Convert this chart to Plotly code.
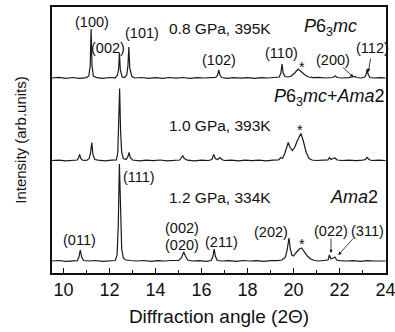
import plotly.graph_objects as go

# ---------------- data (2-theta in degrees, intensity in arb. units above each baseline) -------------
top_x = [9.5, 9.8, 10.1, 10.4, 10.7, 11.0, 11.1, 11.16, 11.2, 11.24, 11.3, 11.45, 11.7, 12.0, 12.25, 12.35,
         12.4, 12.43, 12.47, 12.55, 12.65, 12.75, 12.8, 12.84, 12.88, 12.97, 13.1, 13.4, 13.7, 14.0, 14.3,
         14.6, 14.9, 15.2, 15.5, 15.8, 16.1, 16.4, 16.62, 16.7, 16.75, 16.8, 16.88, 17.1, 17.4, 17.7, 18.0,
         18.3, 18.6, 18.9, 19.2, 19.38, 19.45, 19.5, 19.55, 19.62, 19.75, 19.9, 20.05, 20.2, 20.35, 20.5,
         20.65, 20.85, 21.1, 21.4, 21.7, 21.82, 21.9, 22.1, 22.4, 22.55, 22.65, 22.75, 22.95, 23.1, 23.16,
         23.2, 23.24, 23.32, 23.5, 23.8, 24.0]
top_y = [0, 0.6, -0.4, 0.5, -0.3, 0.4, 2, 12, 49, 12, 2, 0.3, -0.4, 0.5, 0.2, 3,
         10, 25, 8, 1, 0.5, 3, 12, 31, 10, 1.5, 0, 0.5, -0.4, 0.4, -0.3,
         0.5, -0.2, 0.5, -0.3, 0.4, 0, 0.5, 0.6, 3, 8, 3, 0.5, -0.3, 0.4, -0.2, 0.4,
         -0.3, 0.4, 0, 0.5, 1, 5, 14, 5, 1.5, 1, 2, 5, 9, 6, 3,
         1, 0.3, 0.6, 0, 0.5, 2, 0.5, 0, 0.3, 1, 1.5, 0.5, 0, 1, 4,
         9, 4, 0.5, 0, 0.4, 0]

mid_x = [9.5, 9.8, 10.1, 10.4, 10.6, 10.66, 10.7, 10.75, 10.83, 11.0, 11.12, 11.18, 11.23, 11.28, 11.36,
         11.5, 11.8, 12.1, 12.3, 12.36, 12.4, 12.44, 12.48, 12.53, 12.6, 12.72, 12.8, 12.85, 12.9, 13.0,
         13.3, 13.6, 13.9, 14.2, 14.5, 14.8, 15.05, 15.13, 15.18, 15.25, 15.38, 15.7, 16.0, 16.3, 16.45,
         16.53, 16.6, 16.7, 16.8, 16.88, 17.0, 17.3, 17.6, 17.9, 18.2, 18.5, 18.8, 19.1, 19.35, 19.45,
         19.52, 19.62, 19.7, 19.77, 19.85, 19.95, 20.05, 20.15, 20.32, 20.42, 20.55, 20.68, 20.8, 21.0,
         21.3, 21.5, 21.56, 21.63, 21.72, 21.8, 21.9, 22.1, 22.4, 22.7, 23.0, 23.12, 23.2, 23.28, 23.4,
         23.7, 24.0]
mid_y = [0, 0.4, -0.3, 0.5, 0.5, 3, 6, 2, 0.3, 0, 2, 8, 18, 6, 1,
         0.3, -0.3, 0.4, 0.5, 8, 35, 72, 30, 8, 2, 1, 4, 8, 3, 0.5,
         -0.3, 0.4, -0.2, 0.5, -0.3, 0.4, 0.5, 3, 5, 2, 0.3, -0.3, 0.4, 0, 1,
         6, 2, 1, 3, 1, 0, 0.4, -0.3, 0.4, -0.2, 0.4, -0.3, 0.4, 0.5, 3,
         2, 7, 13, 18, 13, 10, 13, 19, 27, 20, 8, 2, 0.5, 0,
         0.4, 0.5, 3, 1, 2, 2.5, 0.5, 0, 0.4, -0.2, 0.4, 1, 3, 1, 0,
         0.4, 0]

bot_x = [9.5, 9.8, 10.1, 10.4, 10.6, 10.67, 10.73, 10.79, 10.87, 11.1, 11.4, 11.7, 12.0, 12.25, 12.33,
         12.38, 12.43, 12.48, 12.53, 12.6, 12.7, 12.9, 13.2, 13.5, 13.8, 14.1, 14.4, 14.7, 15.0, 15.12,
         15.23, 15.3, 15.4, 15.6, 15.9, 16.2, 16.42, 16.5, 16.55, 16.6, 16.68, 16.9, 17.2, 17.5, 17.8,
         18.1, 18.4, 18.7, 19.0, 19.3, 19.5, 19.65, 19.73, 19.8, 19.86, 19.93, 20.0, 20.1, 20.25, 20.35,
         20.45, 20.6, 20.75, 20.9, 21.1, 21.35, 21.5, 21.56, 21.63, 21.72, 21.8, 21.88, 22.0, 22.3, 22.6,
         22.9, 23.2, 23.5, 23.8, 24.0]
bot_y = [0, 0.5, -0.3, 0.5, 0.3, 4, 11, 4, 0.5, 0, 0.5, -0.3, 0.4, 0.5, 6,
         35, 97, 45, 12, 3, 1, 0.5, 0, 0.5, -0.3, 0.4, 0, 0.5, 0.5, 3,
         9, 5, 1, 0, 0.4, -0.3, 0.5, 5, 12, 5, 0.5, 0, 0.4, -0.3, 0.5,
         0, 0.4, -0.3, 0.4, 0.3, 1, 4, 12, 23, 12, 6, 5, 8, 12, 13,
         10, 5, 2, 0.5, 0, 0.5, 1, 6, 2, 3, 4, 1, 0.3, 0, 0.4,
         -0.3, 0.4, 0, 0.4, 0]

offsets = {"top": 195, "mid": 112.5, "bot": 12}

x_ticks = [10, 12, 14, 16, 18, 20, 22, 24]
x_tick_labels = ["10", "12", "14", "16", "18", "20", "22", "24"]

# peak labels: (text, x, y)
peak_labels = [
    ("(100)", 11.23, 251), ("(002)", 11.94, 225), ("(101)", 13.4, 240), ("(102)", 16.75, 213),
    ("(110)", 19.48, 220), ("*", 20.35, 206), ("(200)", 21.7, 213), ("(112)", 23.43, 225),
    ("*", 20.3, 143),
    ("(111)", 13.29, 96), ("(011)", 10.69, 33), ("(002)", 15.15, 45), ("(020)", 15.15, 28),
    ("(211)", 16.87, 31), ("(202)", 19.04, 41), ("*", 20.36, 29), ("(022)", 21.64, 42),
    ("(311)", 23.2, 42),
]
cond_labels = [("0.8 GPa, 395K", 16.8, 245), ("1.0 GPa, 393K", 16.8, 148), ("1.2 GPa, 334K", 16.8, 76)]
phase_labels = [("<i>P</i>6<sub>3</sub><i>mc</i>", 21.6, 246),
                ("<i>P</i>6<sub>3</sub><i>mc</i>+<i>Ama</i>2", 21.58, 176),
                ("<i>Ama</i>2", 22.65, 76)]
# arrows: (x_tail, y_tail, x_head, y_head)
arrows = [(22.08, 207, 22.6, 196), (23.36, 216, 23.25, 201), (21.63, 36, 21.63, 20), (22.65, 36, 21.95, 18)]

# ---------------- figure -------------
FONT = "Liberation Sans, Arial, sans-serif"
fig = go.Figure()
for xs, ys, key in [(top_x, top_y, "top"), (mid_x, mid_y, "mid"), (bot_x, bot_y, "bot")]:
    fig.add_trace(go.Scatter(x=xs, y=[v + offsets[key] for v in ys], mode="lines",
                             line=dict(color="#1a1a1a", width=1.2), showlegend=False, hoverinfo="skip"))

ann = []
for t, x, y in peak_labels:
    ann.append(dict(x=x, y=y, text=t, showarrow=False, font=dict(size=14.5, color="#111", family=FONT)))
for t, x, y in cond_labels:
    ann.append(dict(x=x, y=y, text=t, showarrow=False, font=dict(size=15.5, color="#111", family=FONT)))
for t, x, y in phase_labels:
    ann.append(dict(x=x, y=y, text=t, showarrow=False, font=dict(size=18, color="#111", family=FONT)))
for xt, yt, xh, yh in arrows:
    ann.append(dict(x=xh, y=yh, ax=xt, ay=yt, axref="x", ayref="y", text="", showarrow=True,
                    arrowhead=2, arrowsize=0.8, arrowwidth=0.8, arrowcolor="#111"))

fig.update_layout(
    width=395, height=332,
    margin=dict(l=52, r=9, t=7, b=59),
    paper_bgcolor="white", plot_bgcolor="white",
    annotations=ann,
    xaxis=dict(range=[9.5, 24.02], tickvals=x_ticks, ticktext=x_tick_labels, ticks="inside", ticklen=5,
               tickwidth=1, tickcolor="#111", ticklabeloverflow="allow", automargin=False,
               minor=dict(dtick=1, tick0=9, ticks="inside", ticklen=3, tickcolor="#111"),
               showline=True, linecolor="#111", linewidth=1.5, mirror=True, showgrid=False, zeroline=False,
               tickfont=dict(size=18, color="#111", family=FONT),
               title=dict(text="Diffraction angle (2Θ)", font=dict(size=19, color="#111", family=FONT),
                          standoff=10)),
    yaxis=dict(range=[0, 266], showticklabels=False, ticks="", showline=True, linecolor="#111",
               linewidth=1.5, mirror=True, showgrid=False, zeroline=False, automargin=False,
               title=dict(text="Intensity (arb.units)", font=dict(size=15, color="#111", family=FONT),
                          standoff=20)),
)
fig.write_html("out.html")
